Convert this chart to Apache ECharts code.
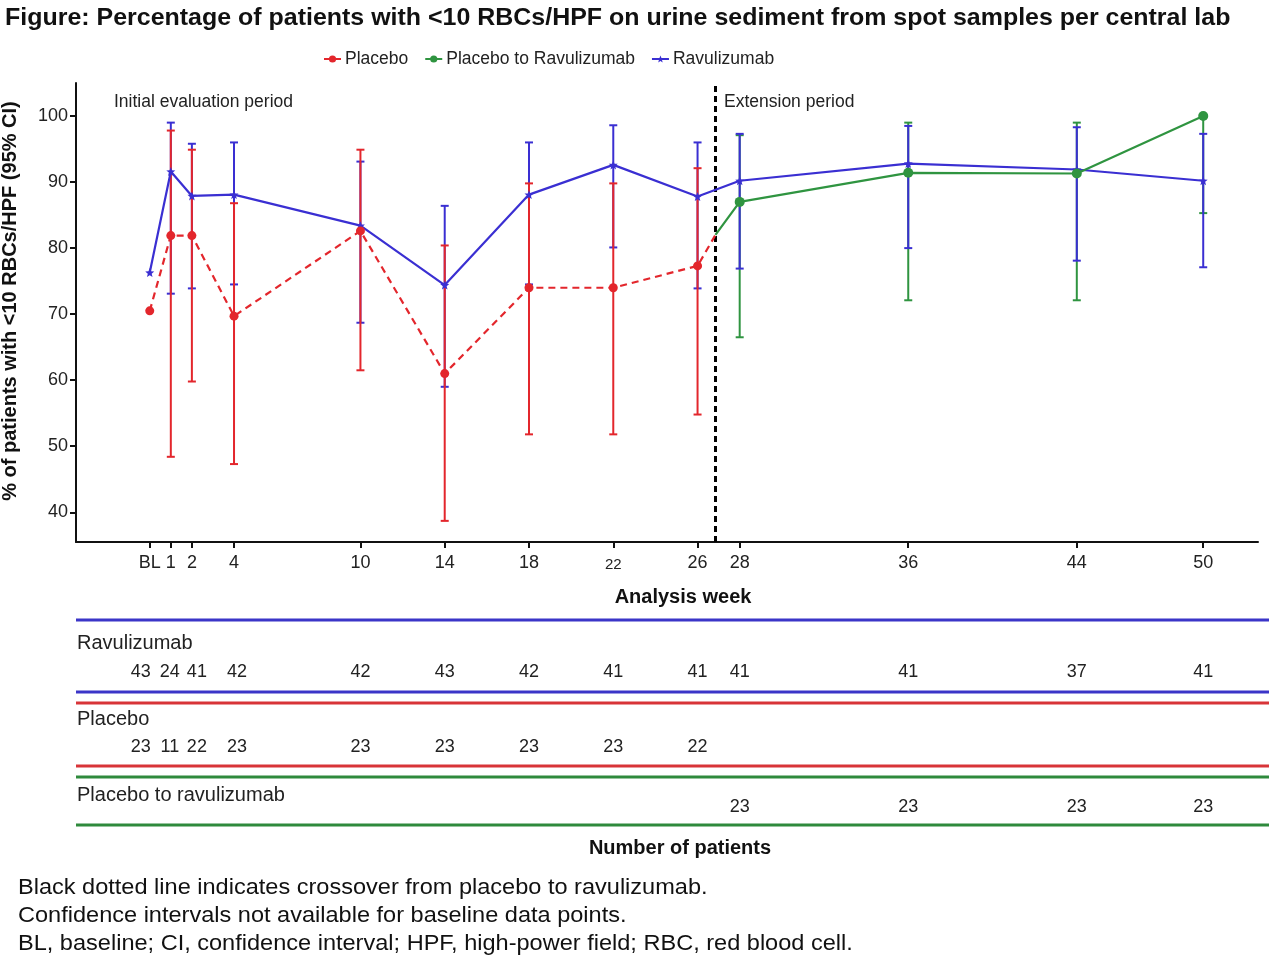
<!DOCTYPE html>
<html>
<head>
<meta charset="utf-8">
<script src="https://cdn.jsdelivr.net/npm/echarts@6/dist/echarts.min.js"></script>
<style>
html,body{margin:0;padding:0;background:#fff;}
#chart{width:1269px;height:973px;}
</style>
</head>
<body>
<div id="chart"></div>
<script>
// ---------- data ----------
const weekTicks = [0, 1, 2, 4, 10, 14, 18, 22, 26, 28, 36, 44, 50];
const weekTickLabels = ['BL', '1', '2', '4', '10', '14', '18', '22', '26', '28', '36', '44', '50'];
const yTicks = [40, 50, 60, 70, 80, 90, 100];

const ravuWeeks = [0, 1, 2, 4, 10, 14, 18, 22, 26, 28, 36, 44, 50];
const ravuValue = [76.3, 91.6, 87.9, 88.1, 83.4, 74.4, 88.1, 92.6, 87.8, 90.2, 92.8, 91.9, 90.2];
const ravuLow   = [null, 73.1, 73.9, 74.5, 68.7, 59.0, 74.5, 80.1, 73.9, 76.9, 80.0, 78.1, 77.1];
const ravuHigh  = [null, 99.0, 95.8, 96.0, 93.1, 86.4, 96.0, 98.6, 96.0, 97.3, 98.5, 98.3, 97.3];
const ravuN     = [43, 24, 41, 42, 42, 43, 42, 41, 41, 41, 41, 37, 41];

const placeboWeeks = [0, 1, 2, 4, 10, 14, 18, 22, 26];
const placeboValue = [70.5, 81.9, 81.9, 69.7, 82.6, 61.0, 74.0, 74.0, 77.3];
const placeboLow   = [null, 48.4, 59.8, 47.3, 61.5, 38.7, 51.8, 51.8, 54.8];
const placeboHigh  = [null, 97.8, 94.9, 86.8, 94.9, 80.4, 89.8, 89.8, 92.1];
const placeboN     = [23, 11, 22, 23, 23, 23, 23, 23, 22];

const switchWeeks = [28, 36, 44, 50];
const switchValue = [87.0, 91.4, 91.3, 100.0];
const switchLow   = [66.5, 72.1, 72.1, 85.3];
const switchHigh  = [97.1, 99.0, 99.0, 100.0];
const switchN     = [23, 23, 23, 23];

const crossoverWeek = 26.85;
const crossoverValue = 82.0;   // where the placebo line turns into the switch line

// ---------- style ----------
const FONT = '"Liberation Sans", Arial, sans-serif';
const BLUE = '#3a2fd2';
const RED = '#e3262c';
const GREEN = '#2f9440';
const TBLUE = '#3b35c8';
const TRED = '#d83438';
const TGREEN = '#2e8a3c';
const STAR = 'path://M0,-10 L2.6,-3.4 L9.5,-3.1 L4.1,1.3 L5.9,8.1 L0,4.3 L-5.9,8.1 L-4.1,1.3 L-9.5,-3.1 L-2.6,-3.4 Z';
// pixel nudges for the crowded count labels (spread apart as in the table)
const COUNT_NUDGE = {0: -9, 1: -1, 2: 5, 4: 3};

const chart = echarts.init(document.getElementById('chart'), null, {renderer: 'canvas'});

function pairs(xs, ys) { return xs.map((x, i) => [x, ys[i]]); }
function errData(xs, lo, hi) {
  const out = [];
  xs.forEach((x, i) => { if (lo[i] != null && hi[i] != null) out.push([x, lo[i], hi[i]]); });
  return out;
}
function errRender(color) {
  return function (params, api) {
    const x = api.value(0);
    const a = api.coord([x, api.value(1)]);
    const b = api.coord([x, api.value(2)]);
    const w = 4;
    const st = {stroke: color, lineWidth: 2};
    return {
      type: 'group',
      children: [
        {type: 'line', shape: {x1: a[0], y1: a[1], x2: b[0], y2: b[1]}, style: st},
        {type: 'line', shape: {x1: a[0] - w, y1: a[1], x2: a[0] + w, y2: a[1]}, style: st},
        {type: 'line', shape: {x1: b[0] - w, y1: b[1], x2: b[0] + w, y2: b[1]}, style: st}
      ]
    };
  };
}
function countRender(rowY) {
  return function (params, api) {
    const wk = api.value(0);
    const p = api.coord([wk, 50]);
    return {
      type: 'text',
      x: p[0] + (COUNT_NUDGE[wk] || 0), y: rowY,
      style: {text: String(api.value(1)), font: '18px ' + FONT, fill: '#222', align: 'center', verticalAlign: 'middle'}
    };
  };
}

// placebo line data continues to the crossover point, switch line starts there
const placeboLine = pairs(placeboWeeks, placeboValue).map(d => ({value: d}));
placeboLine.push({value: [crossoverWeek, crossoverValue], symbol: 'none'});
const switchLine = [{value: [crossoverWeek, crossoverValue], symbol: 'none'}]
  .concat(pairs(switchWeeks, switchValue).map(d => ({value: d})));

// table lines
const tableLines = [
  {y: 620, c: TBLUE}, {y: 692, c: TBLUE}, {y: 703, c: TRED},
  {y: 766, c: TRED}, {y: 777, c: TGREEN}, {y: 825, c: TGREEN}
];

const option = {
  backgroundColor: '#fff',
  animation: false,
  textStyle: {fontFamily: FONT},
  legend: {
    left: 318, top: 45,
    itemWidth: 17, itemHeight: 9, itemGap: 16,
    textStyle: {fontSize: 17.5, color: '#222', fontFamily: FONT, padding: [0, 0, 0, -1]},
    data: ['Placebo', 'Placebo to Ravulizumab', 'Ravulizumab']
  },
  grid: {left: 76, right: 11, top: 83, bottom: 431, containLabel: false},
  xAxis: {
    type: 'value', min: -3.5, max: 52.6,
    axisLine: {show: true, onZero: false, lineStyle: {color: '#111', width: 2}},
    axisTick: {show: true, length: 6, customValues: weekTicks, lineStyle: {color: '#111', width: 2}},
    axisLabel: {
      customValues: weekTicks, fontSize: 18, color: '#222', margin: 12, fontFamily: FONT,
      formatter: function (v) {
        const i = weekTicks.indexOf(v);
        const t = i >= 0 ? weekTickLabels[i] : '';
        return t === '22' ? '{s|22}' : t;
      },
      rich: {s: {fontSize: 15, color: '#222', fontFamily: FONT, padding: [3, 0, 0, 0]}}
    },
    splitLine: {show: false}
  },
  yAxis: {
    type: 'value', min: 35.5, max: 105,
    axisLine: {show: true, onZero: false, lineStyle: {color: '#111', width: 2}},
    axisTick: {show: true, length: 6, customValues: yTicks, lineStyle: {color: '#111', width: 2}},
    axisLabel: {customValues: yTicks, fontSize: 18, color: '#222', margin: 8, fontFamily: FONT},
    splitLine: {show: false}
  },
  series: [
    {
      name: 'switchErr', type: 'custom', renderItem: errRender(GREEN),
      data: errData(switchWeeks, switchLow, switchHigh), z: 2, silent: true,
      encode: {x: 0, y: [1, 2]}
    },
    {
      name: 'ravuErr', type: 'custom', renderItem: errRender(BLUE),
      data: errData(ravuWeeks, ravuLow, ravuHigh), z: 3, silent: true,
      encode: {x: 0, y: [1, 2]}
    },
    {
      name: 'placeboErr', type: 'custom', renderItem: errRender(RED),
      data: errData(placeboWeeks, placeboLow, placeboHigh), z: 4, silent: true,
      encode: {x: 0, y: [1, 2]}
    },
    {
      name: 'Ravulizumab', type: 'line', data: pairs(ravuWeeks, ravuValue),
      symbol: STAR, symbolSize: 9, itemStyle: {color: BLUE},
      lineStyle: {color: BLUE, width: 2.2}, z: 5,
      markLine: {
        silent: true, symbol: 'none', label: {show: false},
        lineStyle: {color: '#000', width: 3, type: [6, 4]},
        data: [{xAxis: crossoverWeek}]
      }
    },
    {
      name: 'Placebo', type: 'line', data: placeboLine,
      symbol: 'circle', symbolSize: 9, itemStyle: {color: RED},
      lineStyle: {color: RED, width: 2.2, type: [7, 5]}, z: 6
    },
    {
      name: 'Placebo to Ravulizumab', type: 'line', data: switchLine,
      symbol: 'circle', symbolSize: 10, itemStyle: {color: GREEN},
      lineStyle: {color: GREEN, width: 2.2}, z: 6
    },
    {
      name: 'ravuN', type: 'custom', renderItem: countRender(672), clip: false, silent: true,
      data: pairs(ravuWeeks, ravuN), encode: {x: 0}
    },
    {
      name: 'placeboN', type: 'custom', renderItem: countRender(747), clip: false, silent: true,
      data: pairs(placeboWeeks, placeboN), encode: {x: 0}
    },
    {
      name: 'switchN', type: 'custom', renderItem: countRender(807), clip: false, silent: true,
      data: pairs(switchWeeks, switchN), encode: {x: 0}
    }
  ],
  graphic: [
    {type: 'text', x: 5, y: 18, scaleX: 1.04, style: {text: 'Figure: Percentage of patients with <10 RBCs/HPF on urine sediment from spot samples per central lab', font: 'bold 24px ' + FONT, fill: '#111', verticalAlign: 'middle'}},
    {type: 'text', x: 10, y: 301, rotation: Math.PI / 2, style: {text: '% of patients with <10 RBCs/HPF (95% CI)', font: 'bold 20px ' + FONT, fill: '#111', align: 'center', verticalAlign: 'middle'}},
    {type: 'text', x: 114, y: 102, style: {text: 'Initial evaluation period', font: '17.5px ' + FONT, fill: '#222', verticalAlign: 'middle'}},
    {type: 'text', x: 724, y: 102, style: {text: 'Extension period', font: '17.5px ' + FONT, fill: '#222', verticalAlign: 'middle'}},
    {type: 'text', x: 683, y: 597, style: {text: 'Analysis week', font: 'bold 20px ' + FONT, fill: '#111', align: 'center', verticalAlign: 'middle'}},
    {type: 'text', x: 77, y: 643, style: {text: 'Ravulizumab', font: '20px ' + FONT, fill: '#222', verticalAlign: 'middle'}},
    {type: 'text', x: 77, y: 719, style: {text: 'Placebo', font: '20px ' + FONT, fill: '#222', verticalAlign: 'middle'}},
    {type: 'text', x: 77, y: 795, style: {text: 'Placebo to ravulizumab', font: '20px ' + FONT, fill: '#222', verticalAlign: 'middle'}},
    {type: 'text', x: 680, y: 848, style: {text: 'Number of patients', font: 'bold 20px ' + FONT, fill: '#111', align: 'center', verticalAlign: 'middle'}},
    {type: 'text', x: 18, y: 888, scaleX: 1.07, style: {text: 'Black dotted line indicates crossover from placebo to ravulizumab.', font: '22px ' + FONT, fill: '#111', verticalAlign: 'middle'}},
    {type: 'text', x: 18, y: 916, scaleX: 1.07, style: {text: 'Confidence intervals not available for baseline data points.', font: '22px ' + FONT, fill: '#111', verticalAlign: 'middle'}},
    {type: 'text', x: 18, y: 944, scaleX: 1.07, style: {text: 'BL, baseline; CI, confidence interval; HPF, high-power field; RBC, red blood cell.', font: '22px ' + FONT, fill: '#111', verticalAlign: 'middle'}}
  ].concat(tableLines.map(l => ({
    type: 'rect', shape: {x: 76, y: l.y - 1.5, width: 1193, height: 3}, style: {fill: l.c}, silent: true
  })))
};
chart.setOption(option);
</script>
</body>
</html>
